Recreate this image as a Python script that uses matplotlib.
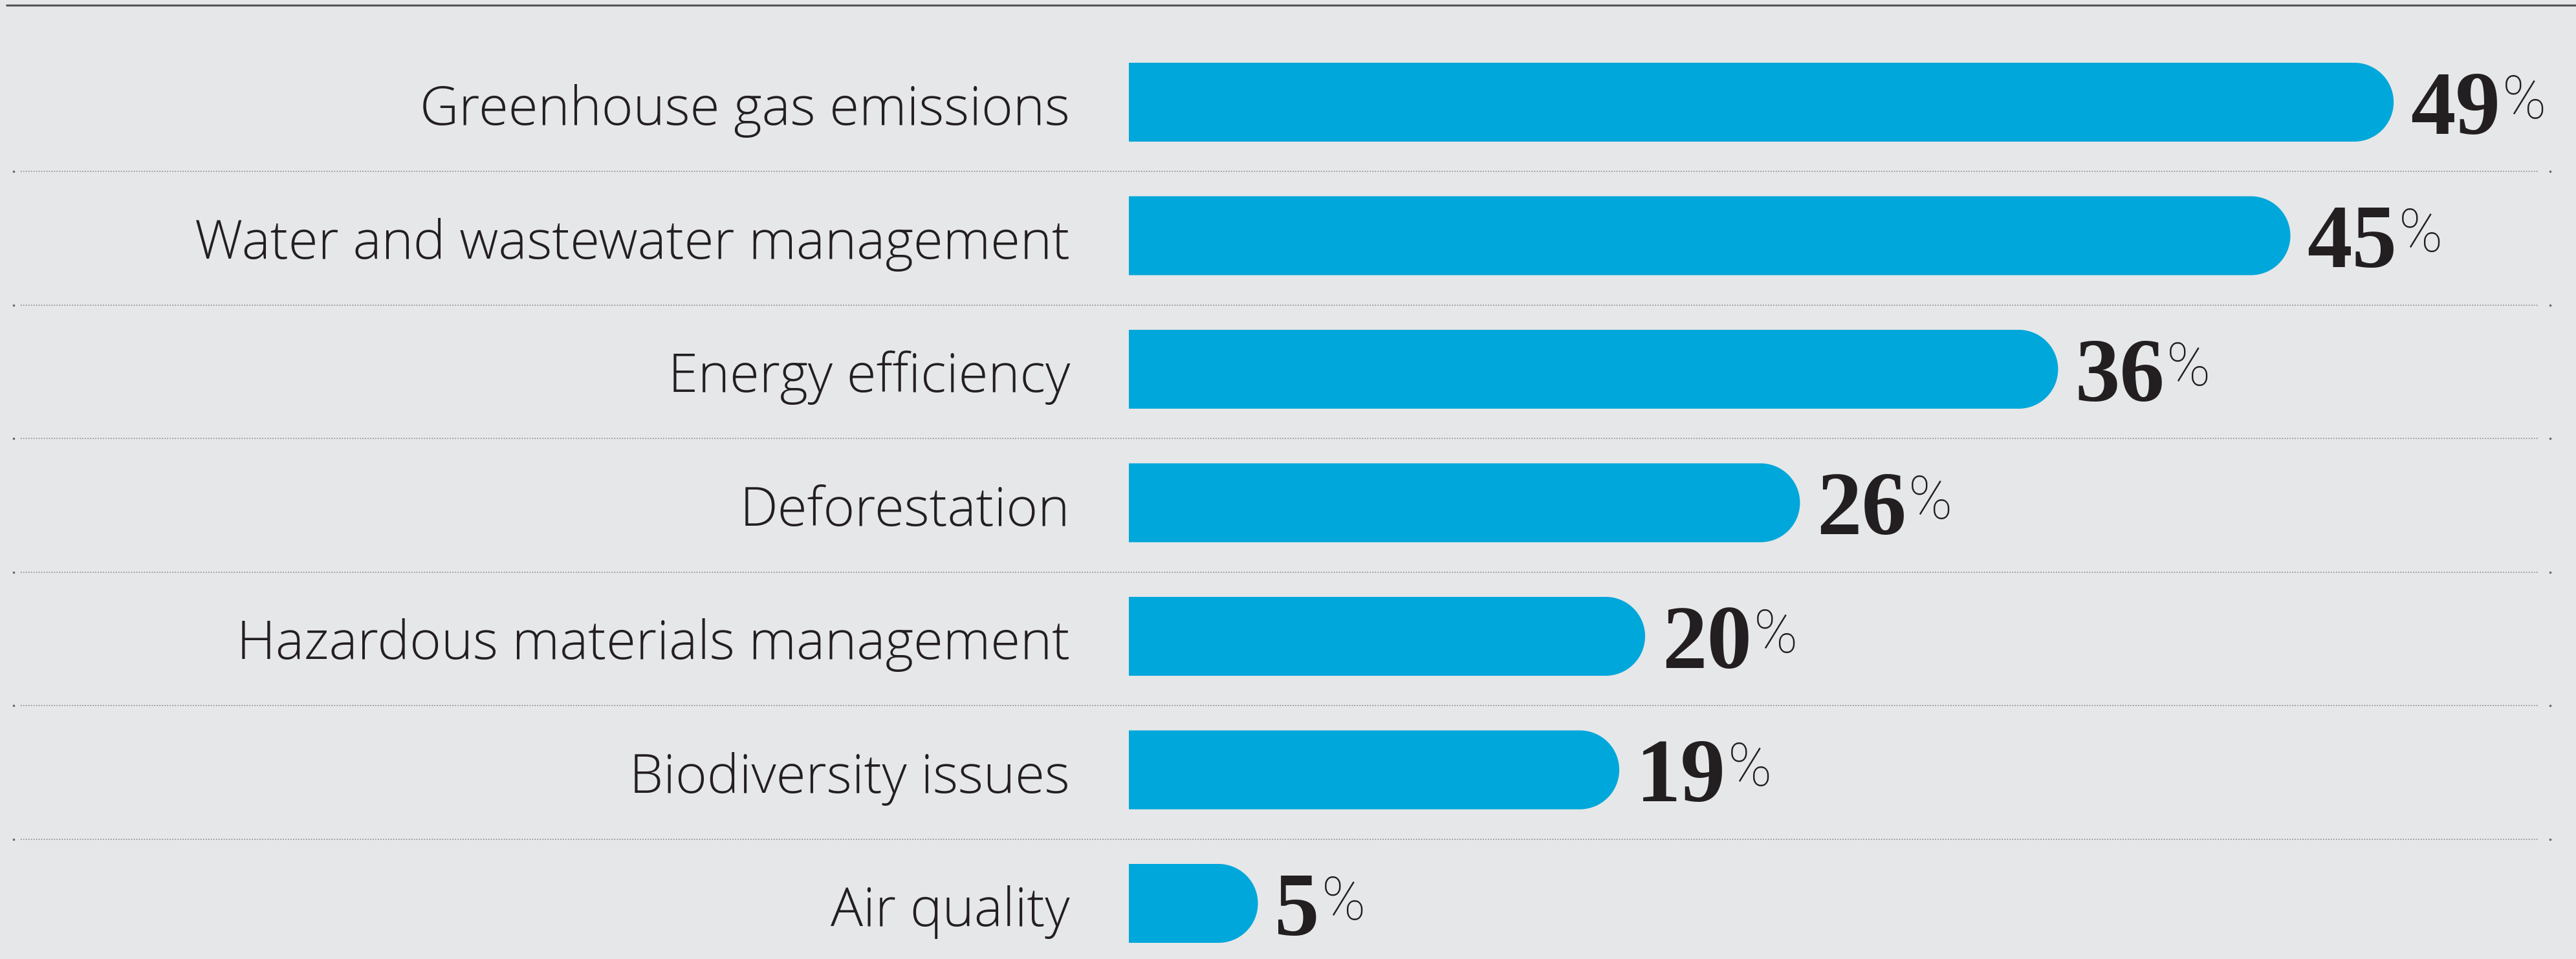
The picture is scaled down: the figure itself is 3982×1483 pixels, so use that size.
import numpy as np
import matplotlib.pyplot as plt

# chart data
categories = ["Greenhouse gas emissions", "Water and wastewater management",
              "Energy efficiency", "Deforestation", "Hazardous materials management",
              "Biodiversity issues", "Air quality"]
values = [49, 45, 36, 26, 20, 19, 5]

# colours
bg = "#e6e7e9"
bar_color = "#00a7da"
text_color = "#231f20"

W, H = 3982, 1483
fig = plt.figure(figsize=(W / 100, H / 100), dpi=100)
fig.patch.set_facecolor(bg)
ax = fig.add_axes([0, 0, 1, 1])
ax.set_facecolor(bg)
ax.axis("off")

# layout in pixels -> data scale
px_per_pct = 39.9
x0_px = 1745
row_px = 206.5
y0_px = 158
ax.set_xlim(-x0_px / px_per_pct, (W - x0_px) / px_per_pct)
ax.set_ylim((H - y0_px) / row_px, -y0_px / row_px)


def px_x(p):
    return (p - x0_px) / px_per_pct


def px_y(p):
    return (p - y0_px) / row_px


half_h = 61 / row_px
rx = 61 / px_per_pct
t = np.linspace(-np.pi / 2, np.pi / 2, 80)

for i, (cat, v) in enumerate(zip(categories, values)):
    # bar with round right end
    xs = np.concatenate([[0], (v - rx) + rx * np.cos(t), [0]])
    ys = np.concatenate([[i - half_h], i + half_h * np.sin(t), [i + half_h]])
    ax.fill(xs, ys, color=bar_color, lw=0)

    ax.text(px_x(1654), i + 0.17, cat, ha="right", va="baseline",
            fontsize=60, family="Open Sans", weight="light", color=text_color)

    num = ax.text(v + 26 / px_per_pct, i + 0.237, str(v), ha="left", va="baseline",
                  fontsize=100, family="Liberation Serif", weight="bold", color=text_color)
    ax.annotate("%", xy=(1, i + 0.121), xycoords=(num, "data"),
                xytext=(2, 0), textcoords="offset points", ha="left", va="baseline",
                fontsize=66, family="Roboto", weight="light", color=text_color)

# dotted separators
for i in range(len(categories) - 1):
    y = i + 0.52
    ax.plot([px_x(32), px_x(3924)], [y, y], color="#7a7a7a", lw=1.1,
            dashes=(1, 1.6), solid_capstyle="butt")
    ax.plot([px_x(21), px_x(3942)], [y, y], ls="none", marker="s", ms=1.4,
            color="#6a6a6a")

# top rule
ax.plot([px_x(9), px_x(W)], [px_y(8), px_y(8)], color="#555555", lw=2.2,
        solid_capstyle="butt")

fig.savefig("out.png", dpi=100, facecolor=bg)
